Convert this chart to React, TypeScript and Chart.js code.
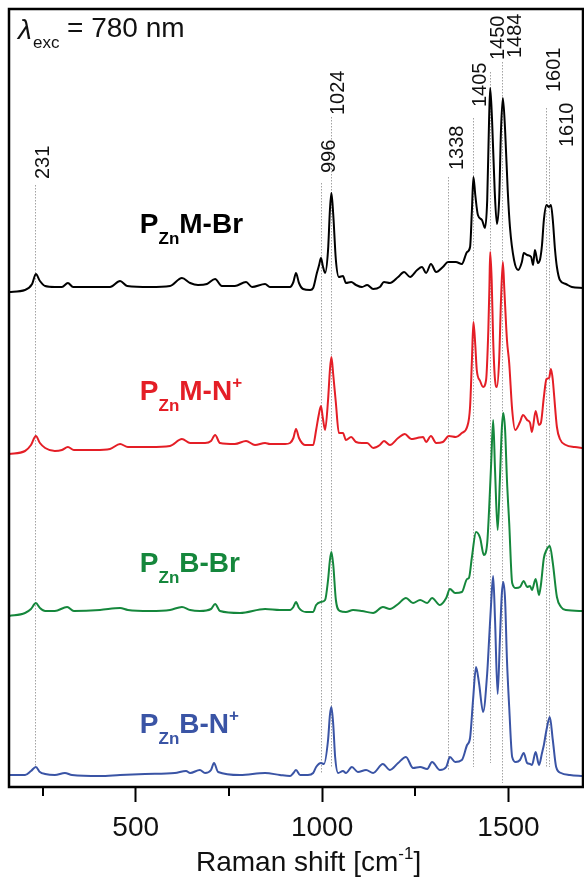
import React, { useEffect, useRef } from 'react';
import { Chart, registerables } from 'chart.js';

Chart.register(...registerables);

// ---------- DATA ----------
// Raman shift (cm^-1) and stacked intensity (a.u.) of each spectrum
const blackShift = [160,203,222,232,243,257,283,302,318,332,377,431,458,477,538,592,624,646,667,691,713,731,766,796,812,847,860,901,914,923,930,938,949,968,976,986,992,997,1002,1008,1016,1021,1025,1030,1037,1045,1056,1064,1078,1091,1107,1121,1137,1155,1166,1182,1204,1220,1236,1255,1268,1279,1292,1306,1324,1338,1359,1375,1389,1397,1402,1406,1411,1418,1429,1437,1443,1448,1451,1456,1463,1469,1475,1480,1485,1491,1498,1504,1515,1526,1536,1541,1550,1561,1566,1571,1579,1585,1590,1595,1602,1609,1614,1619,1625,1630,1638,1654,1670,1700];
const blackInt = [495,497,503,513,506,501,500,500,504,500,500,500,506,501,500,501,509,504,502,503,508,501,501,505,500,503,500,500,500,505,514,504,498,497,499,514,522,529,521,514,537,577,594,572,527,510,511,504,505,502,500,502,498,500,505,504,510,515,510,517,520,514,523,515,520,525,525,523,535,540,577,610,592,572,567,559,587,667,699,667,597,563,587,657,689,657,597,560,527,517,525,534,532,530,522,537,524,528,542,567,582,580,582,567,537,520,507,503,500,499];

const redShift = [160,203,219,232,243,257,283,302,318,334,391,431,458,479,538,592,624,646,667,686,702,713,726,766,796,820,847,860,901,914,923,930,938,946,954,976,984,991,997,1002,1008,1016,1021,1025,1030,1037,1045,1056,1064,1078,1091,1107,1121,1137,1155,1166,1182,1204,1222,1239,1255,1271,1279,1292,1306,1324,1340,1359,1375,1389,1397,1402,1406,1411,1415,1424,1432,1440,1446,1449,1451,1455,1459,1464,1469,1475,1480,1485,1489,1496,1502,1510,1518,1531,1539,1550,1558,1563,1573,1582,1587,1595,1602,1609,1614,1619,1622,1630,1638,1654,1678,1700];
const redInt = [333,336,342,351,344,339,336,337,340,337,337,338,343,340,340,341,348,344,344,344,346,352,344,343,346,342,344,343,343,344,349,358,349,344,342,342,357,372,381,369,357,387,417,430,412,384,354,354,347,350,345,344,344,339,342,346,342,349,353,348,349,350,345,351,344,345,351,350,354,360,380,427,465,442,417,406,400,407,457,502,535,507,447,407,400,427,487,525,497,447,424,377,357,365,372,367,364,355,376,362,364,390,408,409,418,407,394,360,348,342,340,339];

const greenShift = [160,203,219,232,243,257,283,316,334,404,458,479,538,592,624,646,672,702,713,726,780,847,887,914,923,930,938,957,976,984,997,1008,1016,1021,1025,1030,1037,1048,1064,1083,1107,1137,1163,1182,1204,1225,1244,1263,1282,1295,1316,1333,1343,1357,1375,1389,1394,1402,1413,1424,1434,1443,1448,1454,1459,1464,1471,1477,1482,1486,1491,1496,1502,1510,1520,1531,1541,1550,1558,1563,1573,1582,1587,1595,1602,1611,1619,1630,1641,1654,1700];
const greenInt = [171,174,178,184,179,176,176,180,176,177,179,177,176,177,180,177,176,178,183,176,174,178,177,177,180,185,179,175,175,182,185,187,207,227,235,222,187,176,175,177,176,174,180,178,183,189,184,187,184,189,182,189,198,194,195,208,209,230,255,249,232,244,277,327,367,317,257,307,357,374,357,307,264,204,199,200,206,200,201,197,208,192,202,229,237,241,224,190,180,177,176];

const blueShift = [160,203,219,232,243,257,283,310,329,404,458,525,605,635,646,672,686,702,710,721,780,847,887,914,923,930,941,962,976,984,997,1005,1016,1021,1025,1030,1035,1043,1056,1064,1080,1096,1118,1137,1163,1182,1204,1225,1244,1263,1282,1295,1316,1333,1343,1357,1375,1389,1397,1405,1413,1421,1432,1443,1448,1454,1459,1464,1471,1477,1482,1486,1491,1496,1502,1510,1520,1531,1541,1550,1558,1563,1573,1582,1590,1595,1602,1611,1619,1628,1641,1665,1700];
const blueInt = [12,12,16,20,15,13,12,14,12,11,12,13,14,16,14,17,14,17,24,15,12,14,12,11,14,17,12,12,14,20,24,23,47,72,80,62,30,14,16,14,20,15,17,14,23,17,24,30,19,20,18,25,17,20,30,25,27,42,49,87,120,104,75,114,147,187,211,167,93,147,192,205,187,127,80,30,25,27,34,24,23,22,35,22,34,42,57,70,47,20,14,12,11];

// Marked band positions (cm^-1) and their labels
const peakPositions = [231, 996, 1024, 1338, 1405, 1450, 1484, 1601, 1610];
const peakLabels = ['231', '996', '1024', '1338', '1405', '1450', '1484', '1601', '1610'];
// Vertical extent of each dotted marker (a.u.)
const peakLineTop = [602, 604, 670, 610, 669, 715, 725, 679, 630];
const peakLineBottom = [19, 14, 20, 17, 20, 24, 4, 19, 20];
const peakLabelLevel = [608, 614, 672, 617, 680, 727, 729, 695, 640];

// Axis
const xMin = 160;
const xMax = 1700;
const majorTicks = [500, 1000, 1500];
const minorTicks = [250, 750, 1250];

// Sample names: P + subscript Zn + body + superscript
const sampleBody = ['M-Br', 'M-N', 'B-Br', 'B-N'];
const sampleSup = ['', '+', '', '+'];
const sampleLabelLevel = [554, 387, 215, 54];
const sampleLabelShift = 511;

// ---------- STYLE ----------
const COLORS = ['#000000', '#e41e26', '#15873c', '#3a54a5'];
const FONT = "'Liberation Sans', Arial, Helvetica, sans-serif";
const TEXT = '#111111';

const series = [
  { shift: blackShift, int: blackInt },
  { shift: redShift, int: redInt },
  { shift: greenShift, int: greenInt },
  { shift: blueShift, int: blueInt },
];

const labelDx = [8, 9, 7, 9, 7, 9, 13, 8, 18];

function drawParts(ctx: CanvasRenderingContext2D, parts: { t: string; size: number; dy: number; style?: string }[], x0: number, base: number, color: string, weight: string) {
  let x = x0;
  ctx.fillStyle = color;
  ctx.textAlign = 'left';
  ctx.textBaseline = 'alphabetic';
  for (const p of parts) {
    ctx.font = `${p.style || ''} ${weight} ${p.size}px ${FONT}`;
    ctx.fillText(p.t, x, base + p.dy);
    x += ctx.measureText(p.t).width;
  }
  return x - x0;
}

const decor = {
  id: 'ramanDecor',
  beforeDatasetsDraw(chart: any) {
    const { ctx, scales } = chart;
    const xs = scales.x, ys = scales.y;
    ctx.save();
    ctx.strokeStyle = '#a3a3a3';
    ctx.lineWidth = 1;
    ctx.setLineDash([1.5, 1.5]);
    peakPositions.forEach((p, i) => {
      const px = Math.round(xs.getPixelForValue(p)) + 0.5;
      ctx.beginPath();
      ctx.moveTo(px, ys.getPixelForValue(peakLineTop[i]));
      ctx.lineTo(px, ys.getPixelForValue(peakLineBottom[i]));
      ctx.stroke();
    });
    ctx.restore();
  },
  afterDraw(chart: any) {
    const { ctx, scales, chartArea } = chart;
    const xs = scales.x, ys = scales.y;
    const { left, right, top, bottom } = chartArea;
    ctx.save();
    // frame
    ctx.strokeStyle = '#000';
    ctx.lineWidth = 2.5;
    ctx.strokeRect(left, top, right - left, bottom - top);
    // minor ticks
    ctx.lineWidth = 2;
    minorTicks.forEach((v) => {
      const px = Math.round(xs.getPixelForValue(v));
      ctx.beginPath();
      ctx.moveTo(px, bottom);
      ctx.lineTo(px, bottom + 9);
      ctx.stroke();
    });
    // peak labels (rotated)
    ctx.fillStyle = TEXT;
    ctx.font = `20px ${FONT}`;
    peakPositions.forEach((p, i) => {
      const px = xs.getPixelForValue(p) + labelDx[i];
      const py = ys.getPixelForValue(peakLabelLevel[i]);
      ctx.save();
      ctx.translate(px, py);
      ctx.rotate(-Math.PI / 2);
      ctx.textAlign = 'left';
      ctx.textBaseline = 'middle';
      ctx.fillText(peakLabels[i], 0, 0);
      ctx.restore();
    });
    // sample labels
    sampleBody.forEach((b, i) => {
      const x0 = xs.getPixelForValue(sampleLabelShift);
      const base = ys.getPixelForValue(sampleLabelLevel[i]);
      const parts = [
        { t: 'P', size: 28, dy: 0 },
        { t: 'Zn', size: 17, dy: 11 },
        { t: b, size: 28, dy: 0 },
      ];
      if (sampleSup[i]) parts.push({ t: sampleSup[i], size: 17, dy: -12 });
      drawParts(ctx, parts, x0, base, COLORS[i], 'bold');
    });
    // excitation wavelength
    drawParts(ctx, [{ t: 'λ', size: 28, dy: 0, style: 'italic' }], left + 9, top + 30, TEXT, 'normal');
    drawParts(ctx, [{ t: 'exc', size: 17, dy: 0 }], left + 24, top + 39, TEXT, 'normal');
    drawParts(ctx, [{ t: '= 780 nm', size: 28, dy: 0 }], left + 58, top + 28, TEXT, 'normal');
    // axis title
    const parts = [
      { t: 'Raman shift [cm', size: 28, dy: 0 },
      { t: '-1', size: 17, dy: -12 },
      { t: ']', size: 28, dy: 0 },
    ];
    drawParts(ctx, parts, 196, bottom + 84, TEXT, 'normal');
    ctx.restore();
  },
};

export default function App() {
  const ref = useRef<HTMLCanvasElement>(null);
  useEffect(() => {
    document.body.style.margin = '0';
    const canvas = ref.current!;
    const chart = new Chart(canvas, {
      type: 'line',
      data: {
        datasets: series.map((s, i) => ({
          label: sampleBody[i],
          data: s.shift.map((x, j) => ({ x, y: s.int[j] })),
          borderColor: COLORS[i],
          borderWidth: 2,
          pointRadius: 0,
          fill: false,
          cubicInterpolationMode: 'monotone' as const,
        })),
      },
      options: {
        responsive: false,
        animation: false,
        devicePixelRatio: 1,
        events: [],
        layout: { padding: { left: 9, right: 1, top: 9, bottom: 0 } },
        plugins: { legend: { display: false }, tooltip: { enabled: false }, title: { display: false } },
        scales: {
          x: {
            type: 'linear',
            min: xMin,
            max: xMax,
            afterBuildTicks: (scale: any) => {
              scale.ticks = majorTicks.map((v) => ({ value: v }));
            },
            afterFit: (scale: any) => {
              scale.height = 91;
            },
            grid: { drawOnChartArea: false, drawTicks: true, tickLength: 15, tickWidth: 2, tickColor: '#000' },
            border: { display: false },
            ticks: {
              color: TEXT,
              font: { family: FONT, size: 28 },
              padding: 9,
              maxRotation: 0,
              autoSkip: false,
              callback: (v: any) => String(v),
            },
          },
          y: { type: 'linear', display: false, min: 0, max: 778 },
        },
      },
      plugins: [decor],
    });
    return () => chart.destroy();
  }, []);
  return <canvas ref={ref} width={584} height={878} style={{ display: 'block', width: 584, height: 878 }} />;
}
